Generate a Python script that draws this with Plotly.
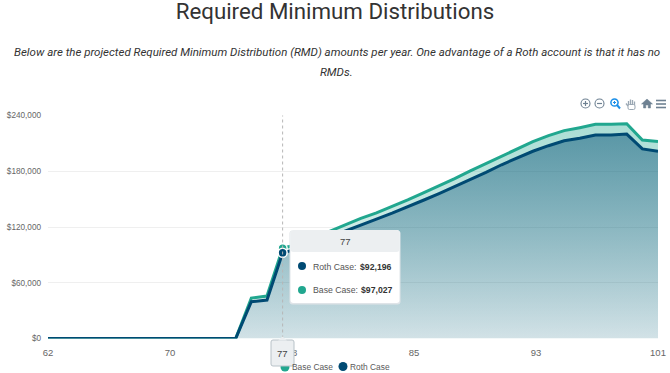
import plotly.graph_objects as go

ages = list(range(62, 102))
base_case = [0]*13 + [43500, 45700, 97027, 101500, 108200, 115000, 122100, 129300, 135100, 141900, 149100,
             156600, 164100, 172000, 180300, 188200, 196800, 204700, 211900, 218300, 223700, 226900,
             230500, 230500, 231200, 213600, 211900]
roth_case = [0]*13 + [39600, 41400, 92196, 96400, 102800, 109300, 116000, 122800, 128500, 134900, 141500,
             148800, 156000, 163500, 171300, 178800, 187000, 194500, 201500, 207500, 212800, 215500,
             219000, 219000, 220000, 204000, 201500]
x_ticks = [62, 69.8, 77.6, 85.4, 93.2, 101]
x_labels = ["62", "70", "78", "85", "93", "101"]
y_ticks = [0, 60000, 120000, 180000, 240000]
y_labels = ["$0", "$60,000", "$120,000", "$180,000", "$240,000"]
hover_age = 77

W, H = 670, 373
L, R, T, B = 48, 658, 115.5, 338.5
px = lambda v: v / W
py = lambda v: 1 - v / H

NAVY = "#004a73"
GREEN = "#21a78f"
SANS = "Liberation Sans, Arial, sans-serif"

fig = go.Figure()
fig.add_trace(go.Scatter(x=ages, y=base_case, mode="lines", name="Base Case", cliponaxis=False,
    line=dict(color=GREEN, width=3), fill="tozeroy", showlegend=False,
    fillgradient=dict(type="vertical", start=0, stop=231200,
        colorscale=[[0, "rgba(33,167,143,0.05)"], [1, "rgba(33,167,143,0.38)"]])))
fig.add_trace(go.Scatter(x=ages, y=roth_case, mode="lines", name="Roth Case", cliponaxis=False,
    line=dict(color=NAVY, width=3), fill="tozeroy", showlegend=False,
    fillgradient=dict(type="vertical", start=0, stop=220000,
        colorscale=[[0, "rgba(0,74,115,0.14)"], [1, "rgba(0,74,115,0.48)"]])))
i = ages.index(hover_age)
fig.add_trace(go.Scatter(x=[hover_age], y=[base_case[i]], mode="markers", showlegend=False, cliponaxis=False,
    marker=dict(size=9, color=GREEN, line=dict(color="white", width=1.5))))
fig.add_trace(go.Scatter(x=[hover_age], y=[roth_case[i]], mode="markers", showlegend=False, cliponaxis=False,
    marker=dict(size=9, color=NAVY, line=dict(color="white", width=1.5))))

shapes, anns = [], []

def rrect(x0, y0, x1, y1, r, fill, line=None):
    X0, X1 = px(x0), px(x1)
    rx = r / W; ry = r / H
    Y0, Y1 = py(y0), py(y1)
    d = (f"M {X0+rx} {Y0} L {X1-rx} {Y0} Q {X1} {Y0} {X1} {Y0-ry} L {X1} {Y1+ry} "
         f"Q {X1} {Y1} {X1-rx} {Y1} L {X0+rx} {Y1} Q {X0} {Y1} {X0} {Y1+ry} L {X0} {Y0-ry} Q {X0} {Y0} {X0+rx} {Y0} Z")
    shapes.append(dict(type="path", path=d, xref="paper", yref="paper", fillcolor=fill,
                       line=dict(color=line or "rgba(0,0,0,0)", width=1), layer="above"))

def dot(cx, cy, r, color, fill=None, w=0):
    shapes.append(dict(type="circle", xref="paper", yref="paper", x0=px(cx-r), x1=px(cx+r),
                       y0=py(cy+r), y1=py(cy-r), fillcolor=fill or color,
                       line=dict(color=color, width=w), layer="above"))

def seg(x0, y0, x1, y1, color, w=1.2):
    shapes.append(dict(type="line", xref="paper", yref="paper", x0=px(x0), x1=px(x1), y0=py(y0), y1=py(y1),
                       line=dict(color=color, width=w), layer="above"))

def text(x, y, s, size=10, color="#444", anchor="left", family=SANS, bold=False):
    anns.append(dict(xref="paper", yref="paper", x=px(x), y=py(y), text=f"<b>{s}</b>" if bold else s,
                     showarrow=False, xanchor=anchor, yanchor="middle",
                     font=dict(size=size, color=color, family=family)))

# crosshair
shapes.append(dict(type="line", xref="x", yref="paper", x0=hover_age, x1=hover_age, y0=py(B), y1=py(T),
                   line=dict(color="#b6b6b6", width=1, dash="dot"), layer="above"))

# legend
dot(285, 367, 4.5, GREEN)
dot(343, 366.5, 4.5, NAVY)
text(290, 366.5, "Base Case", 8.4, "#5a5a5a")
text(348, 366.5, "Roth Case", 8.4, "#5a5a5a")

# x tooltip
rrect(271, 340, 294, 366, 2, "#eceff1", "#b8c2c8")
shapes.append(dict(type="path", xref="paper", yref="paper", layer="above", fillcolor="#eceff1",
                   line=dict(color="rgba(0,0,0,0)"),
                   path=f"M {px(278)} {py(340.5)} L {px(282.5)} {py(336.5)} L {px(287)} {py(340.5)} Z"))
text(282.5, 353, "77", 9.5, "#444", "center")

# tooltip
rrect(289.5, 230.5, 400.5, 304.5, 3, "#dfe4e8")
rrect(290.5, 230, 399.5, 303, 3, "#ffffff")
rrect(290.5, 230, 399.5, 252, 3, "#eceff1")
text(345, 241, "77", 9.5, "#444", "center")
dot(302, 266, 4, NAVY)
dot(302, 290, 4, GREEN)
text(311, 266.5, "Roth Case:", 8.7, "#555")
text(311, 290, "Base Case:", 8.7, "#555")
text(394, 266.5, "$92,196", 8.7, "#333", "right", bold=True)
text(395, 290, "$97,027", 8.7, "#333", "right", bold=True)

# toolbar
ICON = "#6e8192"
dot(585.5, 103.5, 4.5, ICON, "rgba(0,0,0,0)", 1.1)
seg(583, 103.5, 588, 103.5, ICON); seg(585.5, 101, 585.5, 106, ICON)
dot(599.5, 103.5, 4.5, ICON, "rgba(0,0,0,0)", 1.1)
seg(597, 103.5, 602, 103.5, ICON)
dot(614.5, 102.5, 3.6, "#1b8fe8", "rgba(0,0,0,0)", 1.5)
seg(617, 105, 620, 108.5, "#1b8fe8", 2)
seg(613, 102.5, 616, 102.5, "#1b8fe8", 1); seg(614.5, 101, 614.5, 104, "#1b8fe8", 1)
HAND = "#9aa7b3"
for hx, top in ((628.5, 101), (630.5, 99.5), (632.5, 100), (634.5, 101.5)):
    seg(hx, top, hx, 105, HAND, 1.3)
seg(626, 103.5, 628, 106, HAND, 1.3)
rrect(628, 104.5, 635, 109.5, 1.5, "#ffffff", HAND)
shapes.append(dict(type="path", xref="paper", yref="paper", layer="above", fillcolor=ICON,
                   line=dict(color=ICON, width=0.5),
                   path=(f"M {px(641.5)} {py(104)} L {px(647)} {py(99)} L {px(652.5)} {py(104)} L {px(650.5)} {py(104)} "
                         f"L {px(650.5)} {py(108)} L {px(648.2)} {py(108)} L {px(648.2)} {py(105)} L {px(645.8)} {py(105)} "
                         f"L {px(645.8)} {py(108)} L {px(643.5)} {py(108)} L {px(643.5)} {py(104)} Z")))
for yy in (100.5, 104, 107.5):
    seg(656, yy, 666, yy, ICON, 1.6)

# heading text
for line, yy in (("Below are the projected Required Minimum Distribution (RMD) amounts per year. One advantage of a Roth account is that it has no", 52.5),
                 ("RMDs.", 71.5)):
    anns.append(dict(xref="paper", yref="paper", x=px(336.5), y=py(yy), showarrow=False, xanchor="center", yanchor="middle",
                     text=f"<i>{line}</i>", font=dict(size=11.5, color="#333333", family="Roboto")))

fig.update_layout(
    width=W, height=H, autosize=False, showlegend=False,
    title=dict(text="Required Minimum Distributions", x=335/W, y=1-11/H, xanchor="center", yanchor="middle",
               xref="paper", yref="container", font=dict(size=22.3, color="#333333", family="Roboto")),
    margin=dict(l=0, r=0, t=0, b=0, pad=0, autoexpand=False),
    paper_bgcolor="white", plot_bgcolor="white",
    xaxis=dict(domain=[L/W, R/W], range=[62, 101], tickmode="array", tickvals=x_ticks, ticktext=x_labels, showgrid=False,
               zeroline=False, showline=False, ticks="", ticklabelstandoff=7,
               tickfont=dict(size=9.5, color="#666666", family=SANS)),
    yaxis=dict(domain=[1-B/H, 1-T/H], range=[0, 240000], tickmode="array", tickvals=y_ticks, ticktext=y_labels, showgrid=True,
               gridcolor="#efefef", gridwidth=1, zeroline=False, showline=False, ticks="", ticklabelstandoff=6,
               tickfont=dict(size=8.2, color="#666666", family=SANS), layer="above traces"),
    shapes=shapes, annotations=anns, hovermode=False,
)
fig.write_html("out.html", config={"displayModeBar": False, "responsive": False},
               post_script="document.body.style.margin='0';document.documentElement.style.overflow='hidden';")
